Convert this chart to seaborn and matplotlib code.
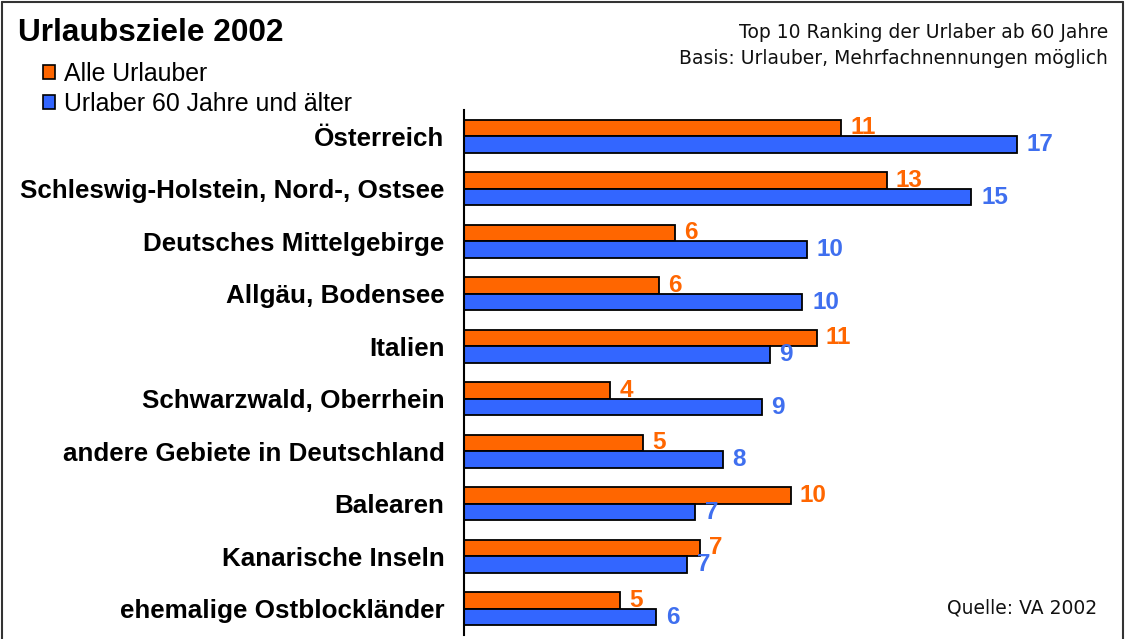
import matplotlib
matplotlib.use("Agg")
import matplotlib.pyplot as plt
from matplotlib.patches import Patch
from matplotlib.lines import Line2D
import numpy as np
import pandas as pd
import seaborn as sns

categories = ["Österreich", "Schleswig-Holstein, Nord-, Ostsee", "Deutsches Mittelgebirge",
              "Allgäu, Bodensee", "Italien", "Schwarzwald, Oberrhein",
              "andere Gebiete in Deutschland", "Balearen", "Kanarische Inseln",
              "ehemalige Ostblockländer"]
series_names = ["Alle Urlauber", "Urlaber 60 Jahre und älter"]
alle_values = [11.6, 13.0, 6.5, 6.0, 10.85, 4.5, 5.5, 10.05, 7.25, 4.8]
senior_values = [17.0, 15.6, 10.55, 10.4, 9.4, 9.15, 7.95, 7.1, 6.85, 5.9]
alle_labels = ["11", "13", "6", "6", "11", "4", "5", "10", "7", "5"]
senior_labels = ["17", "15", "10", "10", "9", "9", "8", "7", "7", "6"]

orange = "#FF6600"
blue = "#3366FF"
label_blue = "#3F6FEF"

df = pd.DataFrame({
    "Ziel": categories + categories,
    "Wert": alle_values + senior_values,
    "Gruppe": [series_names[0]] * len(categories) + [series_names[1]] * len(categories),
})

sns.set_style("white")
plt.rcParams["font.family"] = ["Liberation Sans", "DejaVu Sans"]
plt.rcParams["text.color"] = "black"

W, H = 1125, 639
fig = plt.figure(figsize=(W / 100, H / 100), dpi=100)
ax_left = 464 / W
ax_bottom = 1 - 635 / H
ax_height = (635 - 110) / H
px_per_unit = 32.53
xmax = 20
ax = fig.add_axes([ax_left, ax_bottom, xmax * px_per_unit / W, ax_height])

sns.barplot(data=df, y="Ziel", x="Wert", hue="Gruppe", hue_order=series_names,
            palette=[orange, blue], orient="h", width=0.63, edgecolor="black",
            linewidth=1.3, saturation=1, legend=False, ax=ax)

ax.set_xlim(0, xmax)
ax.set_ylim(len(categories) - 0.5, -0.5)
ax.set_xticks([])
ax.set_xlabel("")
ax.set_ylabel("")
for s in ["top", "right", "bottom"]:
    ax.spines[s].set_visible(False)
ax.spines["left"].set_linewidth(1.5)
ax.spines["left"].set_color("black")

ax.set_yticks(np.arange(len(categories)))
ax.set_yticklabels(categories, fontsize=18.75, fontweight="bold", color="black")
ax.set_yticks(np.arange(-0.5, len(categories), 1), minor=True)
ax.tick_params(axis="y", which="major", length=0, pad=14)
ax.tick_params(axis="y", which="minor", length=6, width=1.3, direction="out", color="black")

ax.bar_label(ax.containers[0], labels=alle_labels, padding=6.5, color=orange,
             fontsize=17.5, fontweight="bold")
ax.bar_label(ax.containers[1], labels=senior_labels, padding=7, color=label_blue,
             fontsize=17.5, fontweight="bold")

# Title and notes
fig.text(18 / W, 1 - 33 / H, "Urlaubsziele 2002", fontsize=22.8, fontweight="bold",
         ha="left", va="center", color="black")
fig.text(1108 / W, 1 - 33 / H, "Top 10 Ranking der Urlaber ab 60 Jahre",
         fontsize=13.5, ha="right", va="center", family=["DejaVu Sans"], color="#111111")
fig.text(1108 / W, 1 - 58 / H, "Basis: Urlauber, Mehrfachnennungen möglich",
         fontsize=13.5, ha="right", va="center", family=["DejaVu Sans"], color="#111111")
fig.text(1097 / W, 1 - 608 / H, "Quelle: VA 2002", fontsize=13.5, ha="right", va="center",
         family=["DejaVu Sans"], color="#111111")

handles = [Patch(facecolor=orange, edgecolor="black", linewidth=1.2),
           Patch(facecolor=blue, edgecolor="black", linewidth=1.2)]
leg = fig.legend(handles, series_names, loc="upper left", bbox_to_anchor=(43 / W, 1 - 62 / H),
                 frameon=False, fontsize=17.9, handlelength=0.5, handleheight=0.5,
                 handletextpad=0.35, labelspacing=0.25, borderpad=0, borderaxespad=0)
for t in leg.get_texts():
    t.set_color("black")

# Outer frame
for xs, ys in [((2 / W, 2 / W), (0, 1 - 2 / H)), ((2 / W, 1 - 2 / W), (1 - 2 / H, 1 - 2 / H)),
               ((1 - 2 / W, 1 - 2 / W), (0, 1 - 2 / H))]:
    fig.add_artist(Line2D(xs, ys, transform=fig.transFigure, color="#333333", linewidth=1.5))

fig.savefig("out.png", dpi=100)
